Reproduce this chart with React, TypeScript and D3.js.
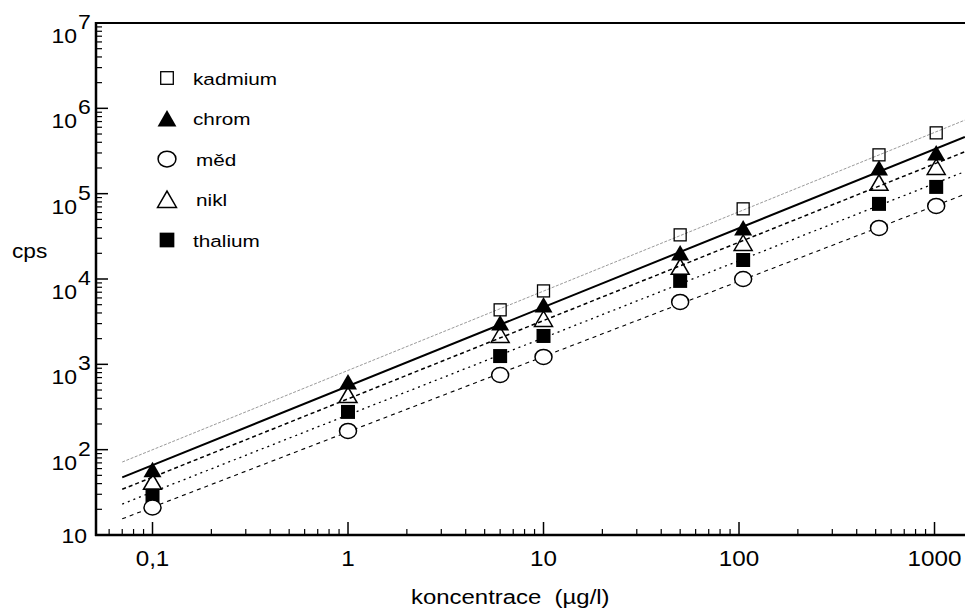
import React from 'react';
import * as d3 from 'd3';

// concentrations (µg/l) and measured counts per element
const conc = [0.1, 1, 6, 10, 50, 105, 520, 1020];
const kadmium = [null, null, 4350, 7250, 32900, 66400, 285000, 516000];
const chrom = [58, 620, 3050, 4970, 20200, 39700, 200000, 300000];
const med = [21, 166, 750, 1220, 5390, 10000, 39700, 71900];
const nikl = [42, 437, 2210, 3400, 13900, 26500, 134000, 206000];
const thalium = [29, 277, 1250, 2150, 9500, 16700, 75900, 120000];

const legendNames = ['kadmium', 'chrom', 'měd', 'nikl', 'thalium'];
const xTickLabels = ['0,1', '1', '10', '100', '1000'];
const xTickValues = [0.1, 1, 10, 100, 1000];
const yExponents = [2, 3, 4, 5, 6, 7];

type Shape = 'squareOpen' | 'triFilled' | 'circleOpen' | 'triOpen' | 'squareFilled';

interface Series {
    name: string;
    values: (number | null)[];
    shape: Shape;
    stroke: string;
    width: number;
    dash: string | undefined;
}

const series: Series[] = [
    { name: legendNames[0], values: kadmium, shape: 'squareOpen', stroke: '#9a9a9a', width: 1, dash: '3,1.5' },
    { name: legendNames[1], values: chrom, shape: 'triFilled', stroke: '#000', width: 2, dash: undefined },
    { name: legendNames[2], values: med, shape: 'circleOpen', stroke: '#000', width: 1.1, dash: '4,4' },
    { name: legendNames[3], values: nikl, shape: 'triOpen', stroke: '#000', width: 1.5, dash: '4,3' },
    { name: legendNames[4], values: thalium, shape: 'squareFilled', stroke: '#000', width: 1.3, dash: '2,4' },
];

const W = 965;
const H = 610;
const margin = { left: 96, top: 23, right: 965, bottom: 535 };
const FONT = '"Liberation Sans", Arial, sans-serif';

// least-squares fit in log-log space
function fitLogLog(xs: number[], ys: (number | null)[]) {
    const pts = xs.map((x, i) => [x, ys[i]] as [number, number | null])
        .filter(p => p[1] != null)
        .map(p => [Math.log10(p[0]), Math.log10(p[1] as number)]);
    const mx = d3.mean(pts, p => p[0]) ?? 0;
    const my = d3.mean(pts, p => p[1]) ?? 0;
    const sxy = d3.sum(pts, p => (p[0] - mx) * (p[1] - my));
    const sxx = d3.sum(pts, p => (p[0] - mx) ** 2);
    const b = sxy / sxx;
    const a = my - b * mx;
    return (x: number) => Math.pow(10, a + b * Math.log10(x));
}

function Marker({ shape, cx, cy, scale = 1 }: { shape: Shape; cx: number; cy: number; scale?: number }) {
    const s = scale;
    if (shape === 'squareOpen') {
        const h = 6 * s;
        return <rect x={cx - h} y={cy - h} width={2 * h} height={2 * h} fill="none" stroke="#000" strokeWidth={1.3} />;
    }
    if (shape === 'squareFilled') {
        const h = 7 * s;
        return <rect x={cx - h} y={cy - h} width={2 * h} height={2 * h} fill="#000" />;
    }
    if (shape === 'circleOpen') {
        return <ellipse cx={cx} cy={cy} rx={8.5 * s} ry={7.5 * s} fill="#fff" stroke="#000" strokeWidth={1.5} />;
    }
    const d = `M${cx - 9 * s},${cy + 7.5 * s}L${cx + 9 * s},${cy + 7.5 * s}L${cx},${cy - 8 * s}Z`;
    if (shape === 'triFilled') return <path d={d} fill="#000" />;
    return <path d={d} fill="none" stroke="#000" strokeWidth={1.5} strokeLinejoin="miter" />;
}

export default function App() {
    const x = d3.scaleLog().domain([0.0514, 1432]).range([margin.left, margin.right]);
    const y = d3.scaleLog().domain([10, 1e7]).range([margin.bottom, margin.top]);

    const xMinor: number[] = [];
    for (let k = -2; k <= 2; k++) {
        for (let m = 2; m <= 9; m++) {
            const v = m * Math.pow(10, k);
            if (v > x.domain()[0] && v < x.domain()[1]) xMinor.push(v);
        }
    }
    const yMinor: number[] = [];
    for (let k = 1; k <= 6; k++) {
        for (let m = 2; m <= 9; m++) yMinor.push(m * Math.pow(10, k));
    }

    const lineGen = d3.line<number>().x(d => x(d)).y(d => y(d[1] ?? 0));
    const lineSpan = [0.07, 1430];

    const drawOrder = [0, 3, 4, 2, 1];

    return (
        <svg width={W} height={H} style={{ position: 'absolute', left: 0, top: 0, background: '#fff' }}
            fontFamily={FONT}>
            <defs>
                <clipPath id="plot">
                    <rect x={margin.left} y={margin.top} width={margin.right - margin.left} height={margin.bottom - margin.top} />
                </clipPath>
            </defs>
            <rect width={W} height={H} fill="#fff" />

            {/* fitted lines */}
            <g clipPath="url(#plot)">
                {series.map(s => {
                    const f = fitLogLog(conc, s.values);
                    const pts = lineSpan.map(v => [x(v), y(f(v))] as [number, number]);
                    return (
                        <path key={s.name} d={d3.line()(pts) ?? ''} fill="none" stroke={s.stroke}
                            strokeWidth={s.width} strokeDasharray={s.dash} />
                    );
                })}
            </g>

            {/* data markers */}
            {drawOrder.map(i => {
                const s = series[i];
                return (
                    <g key={s.name}>
                        {conc.map((c, j) => s.values[j] == null ? null :
                            <Marker key={j} shape={s.shape} cx={x(c)} cy={y(s.values[j] as number)} />)}
                    </g>
                );
            })}

            {/* axes */}
            <line x1={margin.left} x2={margin.right} y1={margin.top} y2={margin.top} stroke="#000" strokeWidth={2} />
            <line x1={margin.left} x2={margin.left} y1={margin.top - 1} y2={margin.bottom + 1} stroke="#000" strokeWidth={2.5} />
            <line x1={margin.left - 1} x2={margin.right} y1={margin.bottom} y2={margin.bottom} stroke="#000" strokeWidth={2.5} />

            {yMinor.map(v => (
                <line key={'ym' + v} x1={margin.left} x2={margin.left + 6} y1={y(v)} y2={y(v)} stroke="#000" strokeWidth={1.2} />
            ))}
            {yExponents.map(k => (
                <line key={'yM' + k} x1={margin.left} x2={margin.left + 12} y1={y(Math.pow(10, k))} y2={y(Math.pow(10, k))} stroke="#000" strokeWidth={1.5} />
            ))}
            {xMinor.map(v => (
                <line key={'xm' + v} x1={x(v)} x2={x(v)} y1={margin.bottom} y2={margin.bottom - 6} stroke="#000" strokeWidth={1.2} />
            ))}
            {xTickValues.map(v => (
                <line key={'xM' + v} x1={x(v)} x2={x(v)} y1={margin.bottom} y2={margin.bottom - 13} stroke="#000" strokeWidth={1.5} />
            ))}

            {/* y tick labels */}
            {yExponents.map(k => {
                const ty = y(Math.pow(10, k));
                return (
                    <g key={'yl' + k} fontSize={20}>
                        <text transform={`translate(77,${ty + 20}) scale(1.15,1)`} textAnchor="end">10</text>
                        <text transform={`translate(78,${ty + 6}) scale(1.15,1)`}>{k}</text>
                    </g>
                );
            })}
            <text transform={`translate(87,${y(10) + 8}) scale(1.15,1)`} textAnchor="end" fontSize={20}>10</text>

            {/* x tick labels */}
            {xTickValues.map((v, i) => (
                <text key={'xl' + v} transform={`translate(${x(v)},566) scale(1.1,1)`} textAnchor="middle" fontSize={22}>
                    {xTickLabels[i]}
                </text>
            ))}

            {/* axis titles */}
            <text transform="translate(12,258) scale(1.08,1)" fontSize={21}>cps</text>
            <text transform="translate(411,604) scale(1.14,1)" fontSize={21} style={{ whiteSpace: 'pre' }}>
                {'koncentrace  (µg/l)'}
            </text>

            {/* legend */}
            {series.map((s, i) => {
                const cy = 78 + i * 40.5;
                return (
                    <g key={'lg' + s.name}>
                        <Marker shape={s.shape} cx={167} cy={cy} scale={1.05} />
                        <text transform={`translate(${i === 2 || i === 3 ? 196 : 193},${cy + 6.5}) scale(1.22,1)`} fontSize={17}>
                            {s.name}
                        </text>
                    </g>
                );
            })}
        </svg>
    );
}
